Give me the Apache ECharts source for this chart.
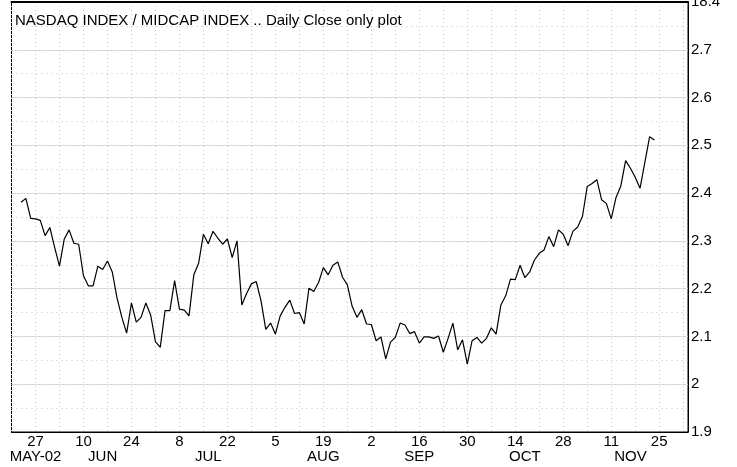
<!DOCTYPE html>
<html>
<head>
<meta charset="utf-8">
<script src="https://cdn.jsdelivr.net/npm/echarts@6.0.0/dist/echarts.min.js"></script>
<style>
  html, body { margin: 0; padding: 0; background: #fff; }
  #chart { width: 737px; height: 467px; }
</style>
</head>
<body>
<div id="chart"></div>
<script>
// weekdays from May 20 2002 to Dec 3 2002 (one slot per weekday)
const startDate = '2002-05-20';
const dayCount = 142;

// daily close ratio, one per weekday (null = outside the plot)
const closes = [
  null, null, 2.381, 2.389, 2.347,
  2.346, 2.343, 2.311, 2.328, 2.286,
  2.247, 2.304, 2.323, 2.295, 2.293,
  2.227, 2.206, 2.206, 2.247, 2.240,
  2.258, 2.235, 2.180, 2.140, 2.107,
  2.170, 2.130, 2.140, 2.170, 2.145,
  2.089, 2.077, 2.154, 2.154, 2.217,
  2.157, 2.155, 2.143, 2.229, 2.253,
  2.314, 2.294, 2.320, 2.306, 2.293,
  2.304, 2.265, 2.300, 2.166, 2.190,
  2.210, 2.215, 2.175, 2.115, 2.128,
  2.105, 2.143, 2.161, 2.176, 2.148,
  2.150, 2.126, 2.201, 2.194, 2.213,
  2.244, 2.229, 2.249, 2.256, 2.224,
  2.208, 2.163, 2.140, 2.156, 2.126,
  2.125, 2.091, 2.099, 2.053, 2.088,
  2.098, 2.128, 2.124, 2.106, 2.110,
  2.086, 2.099, 2.099, 2.096, 2.101,
  2.067, 2.096, 2.128, 2.072, 2.093,
  2.042, 2.091, 2.098, 2.086, 2.096,
  2.118, 2.105, 2.166, 2.185, 2.220,
  2.219, 2.249, 2.223, 2.235, 2.260,
  2.274, 2.281, 2.309, 2.288, 2.323,
  2.314, 2.290, 2.320, 2.329, 2.351,
  2.414, 2.420, 2.428, 2.386, 2.378,
  2.346, 2.391, 2.415, 2.468, 2.452,
  2.433, 2.410, 2.464, 2.518, 2.511,
  null, null, null, null, null,
  null, null
];

// tick labels
const dayTicks = ['2002-05-27', '2002-06-10', '2002-06-24', '2002-07-08', '2002-07-22',
  '2002-08-05', '2002-08-19', '2002-09-02', '2002-09-16', '2002-09-30',
  '2002-10-14', '2002-10-28', '2002-11-11', '2002-11-25'];
const monthTicks = ['2002-05-27', '2002-06-14', '2002-07-16', '2002-08-19',
  '2002-09-16', '2002-10-16', '2002-11-15'];
const monthNames = ['MAY-02', 'JUN', 'JUL', 'AUG', 'SEP', 'OCT', 'NOV'];
const yMin = 1.9, yMax = 2.8;
const topLabel = '18.4';

function pad(n) { return n < 10 ? '0' + n : '' + n; }
const dates = [];
let d = new Date(startDate + 'T00:00:00Z');
while (dates.length < dayCount) {
  const wd = d.getUTCDay();
  if (wd !== 0 && wd !== 6) {
    dates.push(d.getUTCFullYear() + '-' + pad(d.getUTCMonth() + 1) + '-' + pad(d.getUTCDate()));
  }
  d = new Date(d.getTime() + 86400000);
}
function isMonday(s) { return new Date(s + 'T00:00:00Z').getUTCDay() === 1; }

const font = 'Liberation Sans, Arial, Helvetica, sans-serif';
const chart = echarts.init(document.getElementById('chart'));

chart.setOption({
  animation: false,
  backgroundColor: '#fff',
  title: {
    text: 'NASDAQ INDEX / MIDCAP INDEX .. Daily Close only plot',
    left: 10, top: 8,
    textStyle: { fontFamily: font, fontSize: 15, fontWeight: 'normal', color: '#000' }
  },
  grid: {
    left: 11.5, right: 49, top: 2, bottom: 35,
    show: true, borderColor: '#000', borderWidth: 1
  },
  xAxis: [
    {
      type: 'category', data: dates, boundaryGap: false, position: 'bottom',
      axisLine: { lineStyle: { color: '#000', width: 1 } },
      axisTick: { show: false },
      axisLabel: {
        interval: (i, v) => dayTicks.includes(v),
        formatter: v => String(+v.slice(8)),
        fontFamily: font, fontSize: 15, color: '#000', margin: 2
      },
      splitLine: {
        show: true,
        interval: (i, v) => isMonday(v),
        lineStyle: { color: '#c4c4c4', type: [1, 3], width: 1 }
      }
    },
    {
      type: 'category', data: dates, boundaryGap: false, position: 'bottom', offset: 15,
      axisLine: { show: false }, axisTick: { show: false }, splitLine: { show: false },
      axisLabel: {
        interval: (i, v) => monthTicks.includes(v),
        formatter: v => monthNames[monthTicks.indexOf(v)],
        fontFamily: font, fontSize: 15, color: '#000', margin: 2
      }
    },
    {
      type: 'category', data: dates, boundaryGap: false, position: 'top',
      axisLine: { lineStyle: { color: '#000', width: 2 } },
      axisTick: { show: false }, axisLabel: { show: false }, splitLine: { show: false }
    }
  ],
  yAxis: {
    type: 'value', position: 'right', min: yMin, max: yMax, interval: 0.1,
    axisLine: { show: true, lineStyle: { color: '#000', width: 1 } },
    axisTick: { show: false },
    axisLabel: {
      showMaxLabel: false,
      formatter: v => String(+v.toFixed(1)),
      fontFamily: font, fontSize: 15, color: '#000', margin: 3
    },
    splitLine: { show: true, lineStyle: { color: '#c4c4c4', type: [2, 1], width: 1 } },
    minorTick: { show: false, splitNumber: 2 },
    minorSplitLine: { show: true, lineStyle: { color: '#c4c4c4', type: [1, 4], width: 1 } }
  },
  series: [{
    type: 'line', xAxisIndex: 0, data: closes,
    showSymbol: false, connectNulls: false,
    lineStyle: { color: '#000', width: 1.2 }
  }]
});

// top tick label sits half outside the page, as in the original plot
const topX = chart.convertToPixel({ xAxisIndex: 0 }, dates[dates.length - 1]);
const topY = chart.convertToPixel({ yAxisIndex: 0 }, yMax);
chart.setOption({
  graphic: [{
    type: 'text', silent: true,
    x: topX + 3, y: topY,
    style: {
      text: topLabel, fontFamily: font, fontSize: 15, fill: '#000',
      align: 'left', verticalAlign: 'middle'
    }
  }]
});
</script>
</body>
</html>
